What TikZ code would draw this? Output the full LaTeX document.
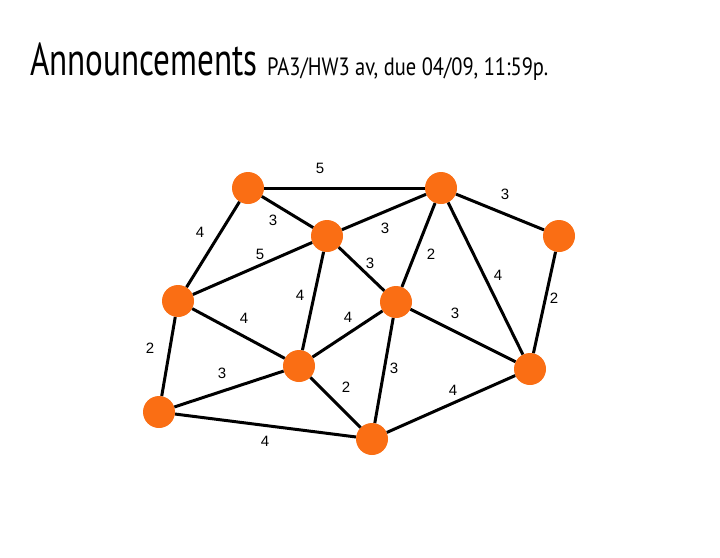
\documentclass[tikz,border=0pt]{standalone}
\usepackage{fontspec}
\setmainfont{PT Sans}
\newfontfamily\lab{Liberation Sans}
\definecolor{vorange}{RGB}{250,110,20}
\begin{document}
\begin{tikzpicture}[x=1pt,y=-1pt,
  vtx/.style={circle,fill=vorange,minimum size=32pt,inner sep=0pt},
  edge/.style={line width=3pt,black},
  wt/.style={font=\lab\fontsize{15}{15}\selectfont,inner sep=0pt}]
\useasboundingbox (0,0) rectangle (720,557);
\node[anchor=base west,inner sep=0pt,xscale=0.72] (t1) at (30,75) {\fontsize{46}{46}\selectfont Announcements};
\node[anchor=base west,inner sep=0pt,xscale=0.82] (t2) at (267,75) {\fontsize{25}{25}\selectfont PA3/HW3 av, due 04/09, 11:59p.};
\node[vtx] (A) at (248,188) {};
\node[vtx] (B) at (441,188) {};
\node[vtx] (C) at (559,236) {};
\node[vtx] (D) at (327,236) {};
\node[vtx] (E) at (178,301) {};
\node[vtx] (F) at (396,302) {};
\node[vtx] (G) at (299,366) {};
\node[vtx] (H) at (530,369) {};
\node[vtx] (I) at (159,412) {};
\node[vtx] (J) at (372,439) {};
\foreach \a/\b in {A/B,B/C,A/E,A/D,D/B,B/F,D/E,D/F,B/H,C/H,D/G,E/G,F/G,F/H,E/I,F/J,G/I,G/J,H/J,I/J}
  \draw[edge] (\a) -- (\b);
\node[wt] (w1) at (320,168) {5};
\node[wt] (w2) at (505,194) {3};
\node[wt] (w3) at (200,232) {4};
\node[wt] (w4) at (273,220) {3};
\node[wt] (w5) at (385,228) {3};
\node[wt] (w6) at (431,254) {2};
\node[wt] (w7) at (260,254) {5};
\node[wt] (w8) at (370,263) {3};
\node[wt] (w9) at (498,275) {4};
\node[wt] (w10) at (554,298) {2};
\node[wt] (w11) at (300,295) {4};
\node[wt] (w12) at (244,318) {4};
\node[wt] (w13) at (348,317) {4};
\node[wt] (w14) at (455,313) {3};
\node[wt] (w15) at (150,348) {2};
\node[wt] (w16) at (394,368) {3};
\node[wt] (w17) at (222,373) {3};
\node[wt] (w18) at (346,387) {2};
\node[wt] (w19) at (453,390) {4};
\node[wt] (w20) at (265,441) {4};
\end{tikzpicture}
\end{document}
